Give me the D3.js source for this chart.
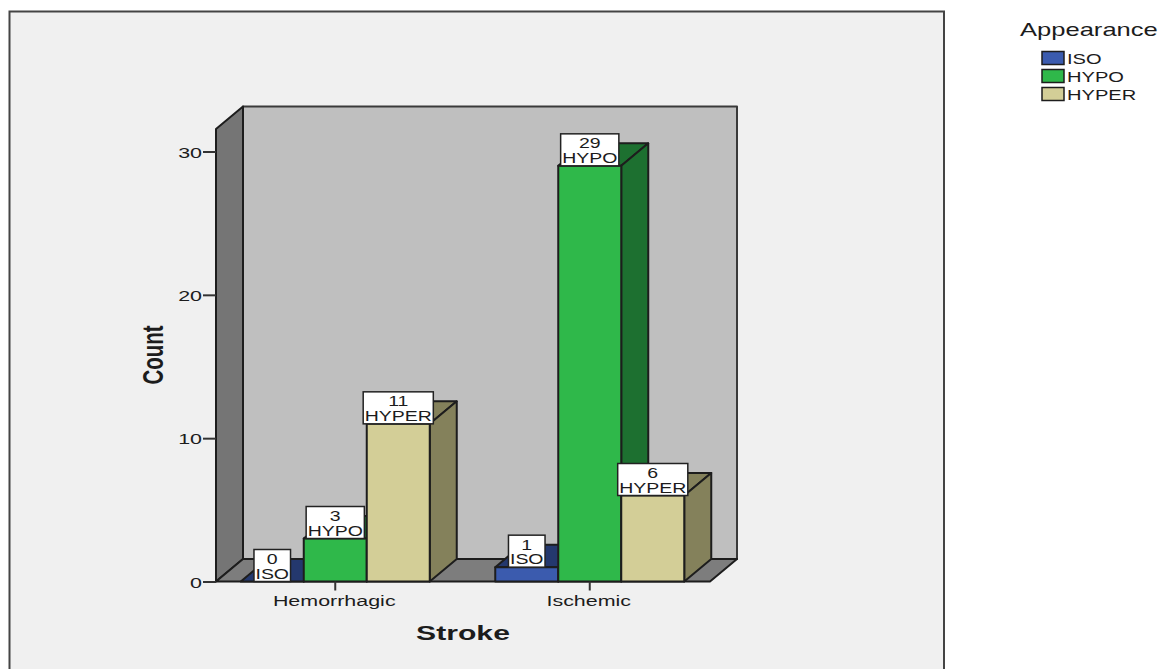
<!DOCTYPE html>
<html>
<head>
<meta charset="utf-8">
<script src="https://cdn.jsdelivr.net/npm/d3@7"></script>
<style>
html, body { margin: 0; padding: 0; background: #fff; }
svg { display: block; }
text { font-family: "Liberation Sans", Arial, sans-serif; fill: #1c1c1c; }
</style>
</head>
<body>
<svg id="chart" width="1168" height="669"></svg>
<script>
// Clustered 3-D bar chart of stroke type by appearance
const strokes = ["Hemorrhagic", "Ischemic"];
const appearances = ["ISO", "HYPO", "HYPER"];
const isoCounts = [0, 1];
const hypoCounts = [3, 29];
const hyperCounts = [11, 6];
const countTicks = [0, 10, 20, 30];

const frontColors = ["#3b5bae", "#2fb84a", "#d3ce97"];
const topColors = ["#24386e", "#1d7030", "#84815b"];
const sideColors = ["#24386e", "#1d7030", "#84815b"];

const counts = { ISO: isoCounts, HYPO: hypoCounts, HYPER: hyperCounts };
const rows = strokes.flatMap((stroke, i) =>
  appearances.map((appearance, k) => ({ stroke, appearance, k, value: counts[appearance][i] })));

const svg = d3.select("#chart");
const outline = "#1d1d1d";
const stretch = 1.43;      // wide text proportion used by axis and legend labels
const labelStretch = 1.3;  // slightly narrower for the labels on the bars

const depthX = 27, depthY = -22.5;
const floorY = 581.5, wallLeft = 216, wallRight = 710, wallTop = 129;

const y = d3.scaleLinear().domain([0, 30]).range([floorY, 151.5]);
const x0 = d3.scaleBand().domain(strokes).range([208, 717]);
const x1 = d3.scaleBand().domain(appearances).range([-94.5, 94.5]);
const barLeft = d => x0(d.stroke) + x0.bandwidth() / 2 + x1(d.appearance);

const poly = pts => pts.map(p => p.join(",")).join(" ");

// Panel
svg.append("rect").attr("x", 9.5).attr("y", 11.5).attr("width", 934.5).attr("height", 670)
  .attr("fill", "#f0f0f0").attr("stroke", "#444").attr("stroke-width", 2);

// Left wall, back wall and floor of the box
const walls = svg.append("g").attr("stroke", outline).attr("stroke-width", 2).attr("stroke-linejoin", "round");
walls.append("polygon").attr("fill", "#bfbfbf").attr("stroke", "#3a3a3a")
  .attr("points", poly([[wallLeft + depthX, wallTop + depthY], [wallRight + depthX, wallTop + depthY],
    [wallRight + depthX, floorY + depthY], [wallLeft + depthX, floorY + depthY]]));
walls.append("polygon").attr("fill", "#757575")
  .attr("points", poly([[wallLeft, floorY], [wallLeft, wallTop], [wallLeft + depthX, wallTop + depthY], [wallLeft + depthX, floorY + depthY]]));
walls.append("polygon").attr("fill", "#7d7d7d")
  .attr("points", poly([[wallLeft, floorY], [wallRight, floorY], [wallRight + depthX, floorY + depthY], [wallLeft + depthX, floorY + depthY]]));

// Bars, drawn left to right so each one hides the side of its neighbour
const bars = svg.append("g").attr("stroke", outline).attr("stroke-width", 2).attr("stroke-linejoin", "round")
  .selectAll("g").data(rows).join("g");
bars.append("polygon").attr("fill", d => topColors[d.k]).attr("points", d => {
  const l = barLeft(d), r = l + x1.bandwidth(), t = y(d.value);
  return poly([[l, t], [r, t], [r + depthX, t + depthY], [l + depthX, t + depthY]]);
});
bars.append("polygon").attr("fill", d => sideColors[d.k]).attr("points", d => {
  const r = barLeft(d) + x1.bandwidth(), t = y(d.value);
  return poly([[r, t], [r + depthX, t + depthY], [r + depthX, floorY + depthY], [r, floorY]]);
});
bars.append("rect").attr("fill", d => frontColors[d.k])
  .attr("x", barLeft).attr("y", d => y(d.value))
  .attr("width", x1.bandwidth()).attr("height", d => floorY - y(d.value));

// Axes
const yAxis = svg.append("g").attr("transform", `translate(${wallLeft},0)`)
  .call(d3.axisLeft(y).tickValues(countTicks).tickSize(13).tickFormat(d3.format("d")));
yAxis.select(".domain").remove();
yAxis.selectAll("line").attr("stroke", "#333").attr("stroke-width", 2);
yAxis.selectAll("text").attr("x", null).attr("dy", null).attr("font-size", 15).attr("text-anchor", "end")
  .attr("transform", `translate(-14,5.5) scale(${stretch},1)`);

const xAxis = svg.append("g").attr("transform", `translate(0,${floorY})`)
  .call(d3.axisBottom(x0).tickSize(9));
xAxis.select(".domain").remove();
xAxis.selectAll("line").attr("stroke", "#333").attr("stroke-width", 2);
xAxis.selectAll("text").attr("y", null).attr("dy", null).attr("font-size", 15).attr("text-anchor", "middle")
  .attr("transform", `translate(-1,24) scale(${stretch},1)`);

// Value labels sitting on each bar's front top edge
const labelH = 32;
const labels = svg.append("g").selectAll("g").data(rows).join("g")
  .attr("transform", d => `translate(${barLeft(d) + x1.bandwidth() / 2},${y(d.value) - labelH})`);
const labelBox = labels.append("rect").attr("fill", "#fff").attr("stroke", "#222").attr("stroke-width", 1.5)
  .attr("y", 0).attr("height", labelH);
labels.append("text").attr("font-size", 15).attr("text-anchor", "middle")
  .attr("transform", `translate(0,14.5) scale(${labelStretch},1)`).text(d => d.value);
const labelNames = labels.append("text").attr("font-size", 15).attr("text-anchor", "middle")
  .attr("transform", `translate(0,29) scale(${labelStretch},1)`).text(d => d.appearance);
labelBox.each(function (d, i) {
  const w = labelNames.nodes()[i].getComputedTextLength() * labelStretch + 3;
  d3.select(this).attr("x", -w / 2).attr("width", w);
});

// Axis titles
svg.append("text").attr("font-size", 20.5).attr("font-weight", "bold").attr("text-anchor", "middle")
  .attr("transform", `translate(463,640) scale(1.47,1)`).text("Stroke");
svg.append("text").attr("font-size", 20.5).attr("font-weight", "bold").attr("text-anchor", "middle")
  .attr("transform", `translate(163,355) scale(${stretch},1) rotate(-90)`).text("Count");

// Legend
const legendLeft = 1042, legendTop = 51.5, legendStep = 18;
svg.append("text").attr("font-size", 18).attr("transform", `translate(1020,36) scale(1.42,1)`).text("Appearance");
const legend = svg.append("g").selectAll("g").data(appearances).join("g")
  .attr("transform", (d, i) => `translate(${legendLeft},${legendTop + i * legendStep})`);
legend.append("rect").attr("width", 22).attr("height", 13)
  .attr("fill", (d, i) => frontColors[i]).attr("stroke", outline).attr("stroke-width", 1.5);
legend.append("text").attr("font-size", 15).attr("transform", `translate(25,12.5) scale(1.34,1)`).text(d => d);
</script>
</body>
</html>
